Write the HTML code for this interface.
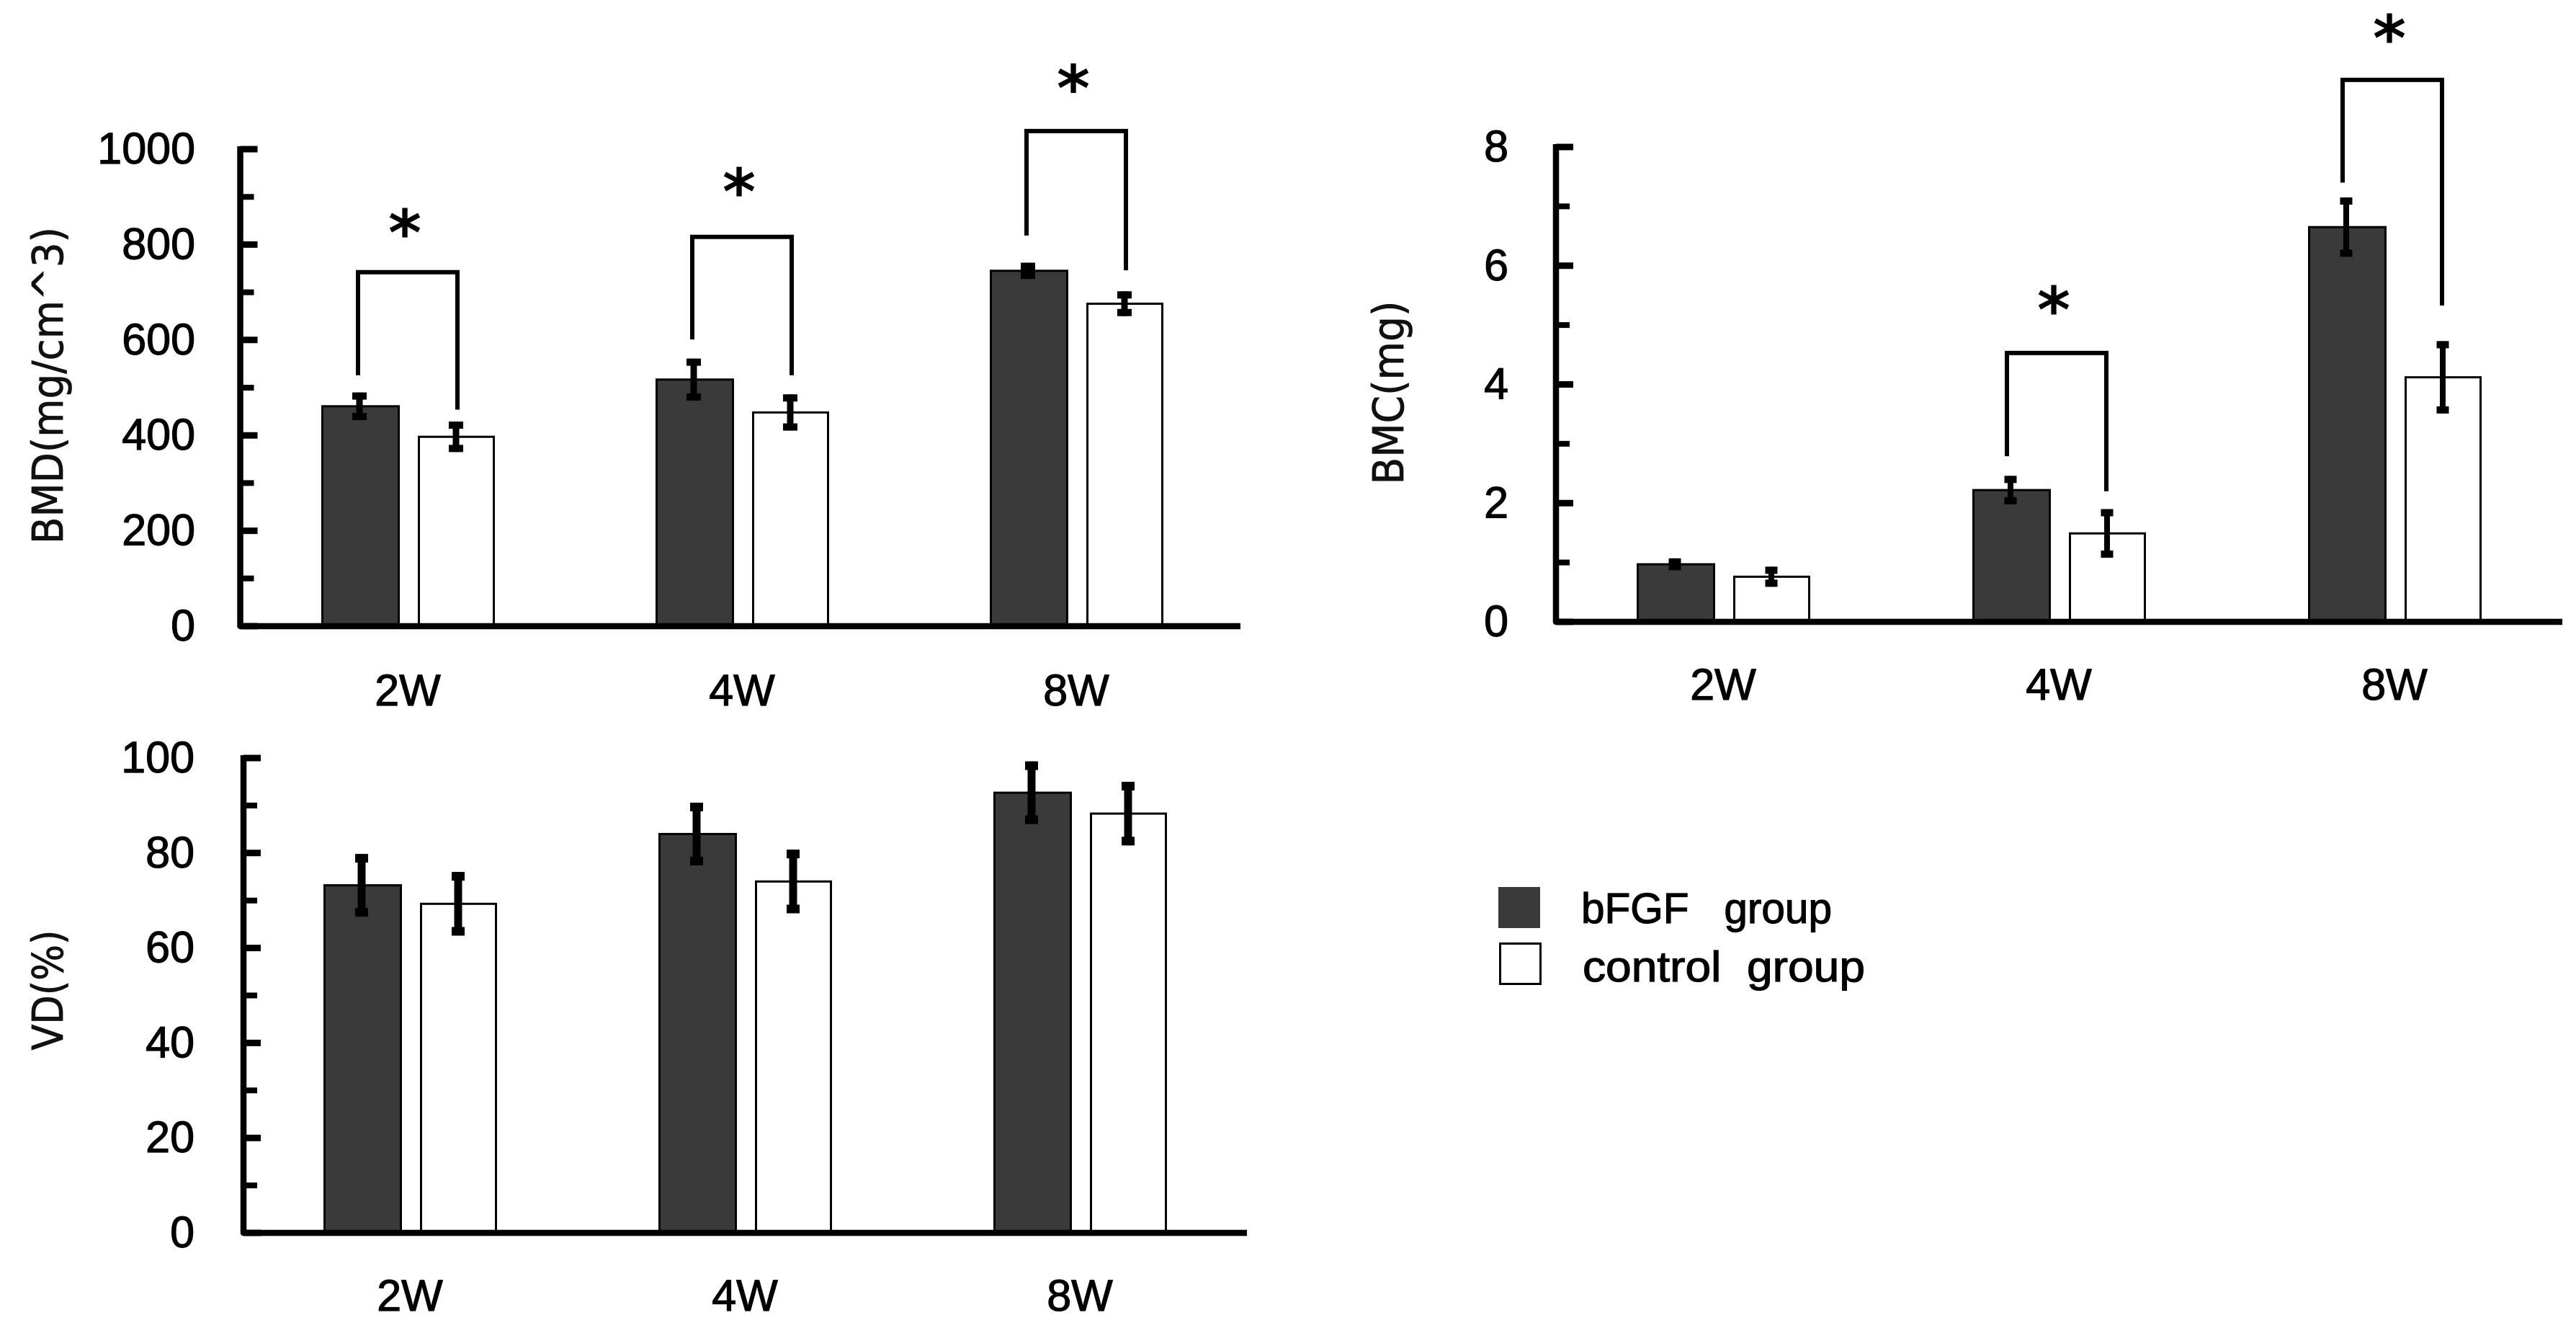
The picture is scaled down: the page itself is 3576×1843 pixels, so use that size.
<!DOCTYPE html>
<html lang="en">
<head>
<meta charset="utf-8">
<title>BMD, BMC and VD bar charts</title>
<style>
  html, body { margin: 0; padding: 0; background: #fff; }
  svg { display: block; }
  text { font-family: "Liberation Sans", sans-serif; fill: #000; stroke: #000; stroke-width: 1.2px; }
  .title { font-family: "DejaVu Sans", sans-serif; font-size: 59px; fill: #111; stroke: #111; stroke-width: 0.8px; }
  .star { font-family: "DejaVu Sans", sans-serif; font-weight: bold; font-size: 88px; stroke-width: 0; }
</style>
</head>
<body>
<svg id="figure" xmlns="http://www.w3.org/2000/svg" width="3576" height="1843" viewBox="0 0 3576 1843">
  <rect width="3576" height="1843" fill="#ffffff"/>
  <g id="chart-bmd"></g>
  <g id="chart-bmc"></g>
  <g id="chart-vd"></g>
  <text class="title" x="87" y="535" text-anchor="middle" textLength="440" lengthAdjust="spacingAndGlyphs" transform="rotate(-90 87 535)">BMD(mg/cm^3)</text>
  <text class="title" x="1948" y="545" text-anchor="middle" textLength="255" lengthAdjust="spacingAndGlyphs" transform="rotate(-90 1948 545)">BMC(mg)</text>
  <text class="title" x="87" y="1374" text-anchor="middle" textLength="167" lengthAdjust="spacingAndGlyphs" transform="rotate(-90 87 1374)">VD(%)</text>
  <g>
    <g>
      <rect x="2080" y="1231" width="58" height="57" fill="#3a3a3a"/>
      <text x="2195" y="1281" font-size="59" textLength="348" lengthAdjust="spacingAndGlyphs" xml:space="preserve" style="white-space:pre">bFGF   group</text>
    </g>
    <g>
      <rect x="2082.5" y="1309.5" width="56" height="56" fill="#ffffff" stroke="#000" stroke-width="3"/>
      <text x="2197" y="1362" font-size="59" textLength="392" lengthAdjust="spacingAndGlyphs" xml:space="preserve" style="white-space:pre">control  group</text>
    </g>
  </g>
</svg>
<script>
// Shared categories
const categories = ['2W', '4W', '8W'];

// BMD chart values
const bmdTicks = [0, 200, 400, 600, 800, 1000];
const bmdMinorTicks = [100, 300, 500, 700, 900];
const bmdFgf = [461, 517, 745];
const bmdFgfErr = [29, 44, 17];
const bmdControl = [397, 448, 676];
const bmdControlErr = [32, 38, 26];
const bmdBracketTop = [742, 816, 1038];
const bmdBracketLeft = [526, 601, 819];
const bmdBracketRight = [454, 526, 746];
const bmdStarLevel = [843, 929, 1146];

// BMC chart values
const bmcTicks = [0, 2, 4, 6, 8];
const bmcMinorTicks = [1, 3, 5, 7];
const bmcFgf = [0.97, 2.22, 6.65];
const bmcFgfErr = [0.10, 0.24, 0.50];
const bmcControl = [0.76, 1.49, 4.12];
const bmcControlErr = [0.17, 0.41, 0.61];
const bmcBracketTop = [null, 4.53, 9.13];
const bmcBracketLeft = [null, 2.79, 7.40];
const bmcBracketRight = [null, 2.20, 5.33];
const bmcStarLevel = [null, 5.40, 9.98];

// VD chart values
const vdTicks = [0, 20, 40, 60, 80, 100];
const vdMinorTicks = [10, 30, 50, 70, 90];
const vdFgf = [73.2, 84, 92.7];
const vdFgfErr = [6.6, 6.6, 6.6];
const vdControl = [69.3, 74, 88.3];
const vdControlErr = [6.7, 6.7, 6.7];

const SVG_NS = 'http://www.w3.org/2000/svg';

function make(parent, tag, attrs, content) {
  const el = document.createElementNS(SVG_NS, tag);
  for (const key in attrs) el.setAttribute(key, attrs[key]);
  if (content !== undefined) el.textContent = content;
  parent.appendChild(el);
  return el;
}

function drawChart(cfg) {
  const root = document.getElementById(cfg.id);
  const top = cfg.ticks[cfg.ticks.length - 1];
  const yScale = v => cfg.y0 - (v / top) * cfg.plotH;
  const xScale = i => cfg.x0 + i * cfg.step;

  categories.forEach((cat, i) => {
    const cx = xScale(i);
    const series = [
      { key: 'bfgf', vals: cfg.fgf, errs: cfg.fgfErr, fill: '#3a3a3a', left: -118.5, width: 106, errX: -67 },
      { key: 'control', vals: cfg.control, errs: cfg.controlErr, fill: '#ffffff', left: 15.5, width: 104, errX: 67 }
    ];

    series.forEach(s => {
      const v = s.vals[i];
      const e = s.errs[i];
      const bar = make(root, 'rect', {
        x: cx + s.left, y: yScale(v), width: s.width, height: cfg.y0 - yScale(v),
        fill: s.fill, stroke: '#000', 'stroke-width': 3
      });
      
      

      const ex = cx + s.errX;
      const errLine = make(root, 'line', {
        x1: ex, x2: ex, y1: yScale(v + e), y2: yScale(v - e),
        stroke: '#000', 'stroke-width': cfg.errWidth
      });
      
      

      const capTop = make(root, 'rect', {
        x: ex - cfg.capW / 2, y: yScale(v + e), width: cfg.capW, height: cfg.capH, fill: '#000'
      });
      
      

      const capBottom = make(root, 'rect', {
        x: ex - cfg.capW / 2, y: yScale(v - e) - cfg.capH, width: cfg.capW, height: cfg.capH, fill: '#000'
      });
      
      
    });

    // Significance bracket and asterisk
    if (cfg.bracketTop && cfg.bracketTop[i] !== null) {
      const lx = cx - 69 + cfg.bracketShift;
      const rx = cx + 69 + cfg.bracketShift;
      const bracket = make(root, 'path', {
        d: `M${lx} ${yScale(cfg.bracketLeft[i])} V${yScale(cfg.bracketTop[i])} H${rx} V${yScale(cfg.bracketRight[i])}`,
        fill: 'none', stroke: '#000', 'stroke-width': 6
      });
      
      

      const star = make(root, 'text', {
        class: 'star', x: (lx + rx) / 2 - 4, y: yScale(cfg.starLevel[i]) + 43, 'text-anchor': 'middle'
      }, '*');
      
      
    }

    const catLabel = make(root, 'text', {
      x: cx, y: cfg.catY, 'font-size': 61, 'text-anchor': 'middle'
    }, cat);
    
    
  });

  // Major ticks and labels
  cfg.ticks.forEach(t => {
    const tick = make(root, 'line', {
      x1: cfg.axisX, x2: cfg.axisX + 24, y1: yScale(t), y2: yScale(t),
      stroke: '#000', 'stroke-width': 9
    });
    
    
    const label = make(root, 'text', {
      x: cfg.labelRight, y: yScale(t) + 20, 'font-size': 61, 'text-anchor': 'end'
    }, String(t));
    
    
  });

  // Minor ticks
  cfg.minor.forEach(t => {
    const tick = make(root, 'line', {
      x1: cfg.axisX, x2: cfg.axisX + 19, y1: yScale(t), y2: yScale(t),
      stroke: '#000', 'stroke-width': 8
    });
    
    
  });

  // Axes drawn last so the bars sit behind the baseline
  const axisPath = make(root, 'path', {
    d: `M${cfg.axisX} ${yScale(top) - 4} V${cfg.y0} H${cfg.axisEnd}`,
    fill: 'none', stroke: '#000', 'stroke-width': 8.5, 'stroke-linejoin': 'round'
  });
  
  
}

drawChart({
  id: 'chart-bmd', name: 'bmd', ticks: bmdTicks, minor: bmdMinorTicks,
  fgf: bmdFgf, fgfErr: bmdFgfErr, control: bmdControl, controlErr: bmdControlErr,
  bracketTop: bmdBracketTop, bracketLeft: bmdBracketLeft, bracketRight: bmdBracketRight, starLevel: bmdStarLevel,
  bracketShift: 0, x0: 566, step: 464, y0: 869, plotH: 662,
  axisX: 333.5, axisEnd: 1722, labelRight: 271, catY: 979, errWidth: 9, capW: 20, capH: 10
});

drawChart({
  id: 'chart-bmc', name: 'bmc', ticks: bmcTicks, minor: bmcMinorTicks,
  fgf: bmcFgf, fgfErr: bmcFgfErr, control: bmcControl, controlErr: bmcControlErr,
  bracketTop: bmcBracketTop, bracketLeft: bmcBracketLeft, bracketRight: bmcBracketRight, starLevel: bmcStarLevel,
  bracketShift: -3, x0: 2392, step: 466, y0: 863, plotH: 659,
  axisX: 2160, axisEnd: 3557, labelRight: 2094, catY: 971, errWidth: 8, capW: 17, capH: 10
});

drawChart({
  id: 'chart-vd', name: 'vd', ticks: vdTicks, minor: vdMinorTicks,
  fgf: vdFgf, fgfErr: vdFgfErr, control: vdControl, controlErr: vdControlErr,
  x0: 569, step: 465, y0: 1711, plotH: 659, bracketShift: 0,
  axisX: 338, axisEnd: 1731, labelRight: 270, catY: 1819, errWidth: 11, capW: 18, capH: 12
});
</script>
</body>
</html>
